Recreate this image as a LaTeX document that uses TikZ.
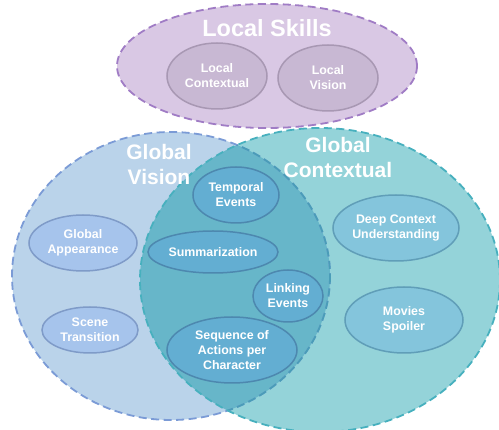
\documentclass[tikz,border=0pt]{standalone}
\usepackage{fontspec}
\setmainfont{Liberation Sans}
\usetikzlibrary{shapes.geometric}
\definecolor{lsfill}{HTML}{D9C8E4}
\definecolor{lsdraw}{HTML}{A07CC5}
\definecolor{lifill}{HTML}{C8B8D3}
\definecolor{lidraw}{HTML}{A898B3}
\definecolor{gvfill}{HTML}{BAD3EA}
\definecolor{gvdraw}{HTML}{7B9BD6}
\definecolor{gcfill}{HTML}{94D3D9}
\definecolor{gcdraw}{HTML}{47B0BE}
\definecolor{lensfill}{HTML}{67B6C9}
\definecolor{lensdraw}{HTML}{4A9DB8}
\definecolor{vifill}{HTML}{A6C4EC}
\definecolor{vidraw}{HTML}{7F9BC8}
\definecolor{bifill}{HTML}{63AED2}
\definecolor{bidraw}{HTML}{4D88AF}
\definecolor{cifill}{HTML}{84C5DC}
\definecolor{cidraw}{HTML}{609EB8}
\tikzset{
  bigborder/.style={line width=1.8pt, dash pattern=on 8pt off 4.5pt},
  inner/.style={ellipse, inner sep=0pt, line width=1.5pt, text=white, align=center,
    font=\bfseries\fontsize{12.4}{15}\selectfont},
  title/.style={text=white, align=center, inner sep=0pt,
    font=\bfseries\fontsize{21}{25}\selectfont},
}
\begin{document}
\begin{tikzpicture}[x=1pt,y=-1pt]
\useasboundingbox (0,0) rectangle (499,430);
% Global Vision
\fill[gvfill] (171,276) ellipse [x radius=159, y radius=144];
% Global Contextual
\fill[gcfill] (320,280) ellipse [x radius=180, y radius=152];
% lens
\begin{scope}
\clip (320,280) ellipse [x radius=180, y radius=152];
\fill[lensfill] (171,276) ellipse [x radius=159, y radius=144];
\end{scope}
\draw[gvdraw, bigborder] (171,276) ellipse [x radius=159, y radius=144];
\begin{scope}
\clip (320,280) ellipse [x radius=180, y radius=152];
\draw[lensdraw, bigborder] (171,276) ellipse [x radius=159, y radius=144];
\end{scope}
\draw[gcdraw, bigborder] (320,280) ellipse [x radius=180, y radius=152];
% Local Skills
\node[ellipse, fill=lsfill, draw=lsdraw, bigborder, minimum width=300pt, minimum height=124pt, inner sep=0pt] (ls) at (267,66) {};
\node[title, font=\bfseries\fontsize{23.5}{28}\selectfont] (lst) at (267,28) {Local Skills};
\node[inner, fill=lifill, draw=lidraw, minimum width=100pt, minimum height=66pt] (lc) at (217,76) {Local\\Contextual};
\node[inner, fill=lifill, draw=lidraw, minimum width=100pt, minimum height=66pt] (lv) at (328,78) {Local\\Vision};
% titles
\node[title] (gvt) at (159,164) {Global\\Vision};
\node[title] (gct) at (338,157) {Global\\Contextual};
% vision inner
\node[inner, fill=vifill, draw=vidraw, minimum width=108pt, minimum height=56pt] (ga) at (83,243) {Global\\Appearance};
\node[inner, fill=vifill, draw=vidraw, minimum width=96pt, minimum height=46pt] (st) at (90,330) {Scene\\Transition};
% lens inner
\node[inner, fill=bifill, draw=bidraw, minimum width=86pt, minimum height=56pt] (te) at (236,195) {Temporal\\Events};
\node[inner, fill=bifill, draw=bidraw, minimum width=130pt, minimum height=42pt] (su) at (213,252) {Summarization};
\node[inner, fill=bifill, draw=bidraw, minimum width=70pt, minimum height=52pt] (le) at (288,296) {Linking\\Events};
\node[inner, fill=bifill, draw=bidraw, minimum width=130pt, minimum height=66pt] (sa) at (232,350) {Sequence of\\Actions per\\Character};
% contextual inner
\node[inner, fill=cifill, draw=cidraw, minimum width=126pt, minimum height=66pt] (dc) at (396,228) {Deep Context\\Understanding};
\node[inner, fill=cifill, draw=cidraw, minimum width=118pt, minimum height=66pt] (ms) at (404,320) {Movies\\Spoiler};
\end{tikzpicture}
\end{document}
